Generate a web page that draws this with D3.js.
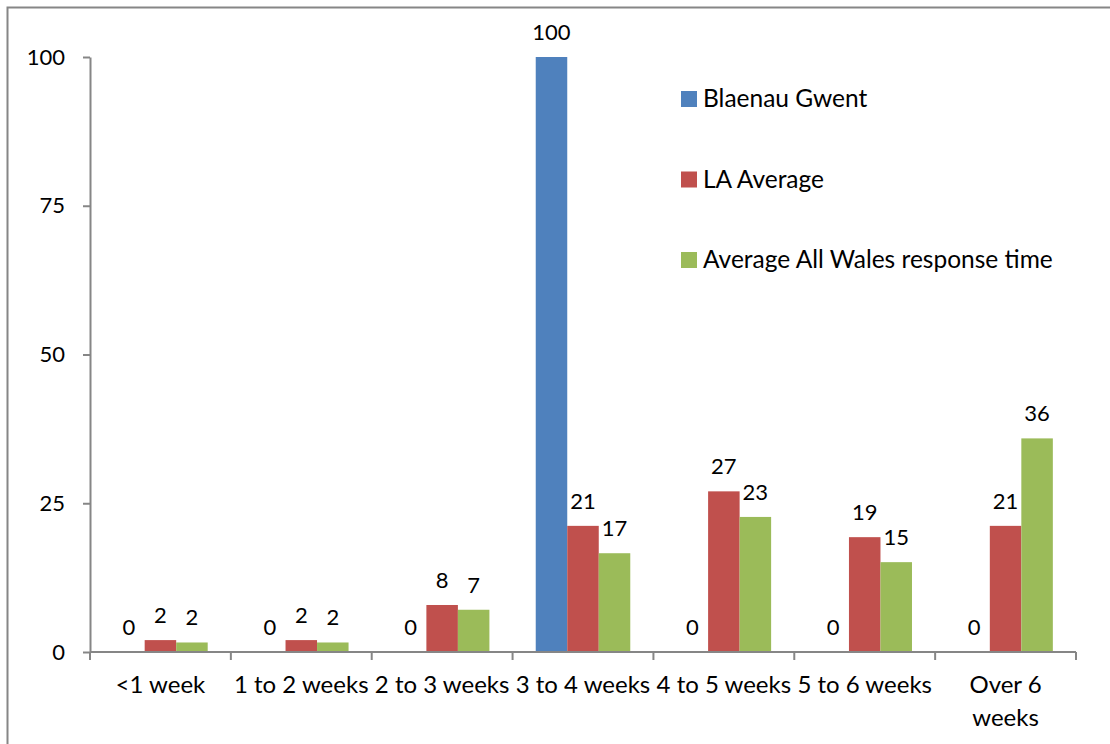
<!DOCTYPE html>
<html>
<head>
<meta charset="utf-8">
<script src="https://cdn.jsdelivr.net/npm/d3@7.9.0/dist/d3.min.js"></script>
<style>
  body { margin: 0; background: #fff; }
  svg { display: block; }
  text { font-family: Lato, "Open Sans", sans-serif; fill: #000; }
</style>
</head>
<body>
<svg width="1110" height="744"></svg>
<script>
// chart data
const categories = ['<1 week', '1 to 2 weeks', '2 to 3 weeks', '3 to 4 weeks', '4 to 5 weeks', '5 to 6 weeks', 'Over 6 weeks'];
const tickLabels = [['<1 week'], ['1 to 2 weeks'], ['2 to 3 weeks'], ['3 to 4 weeks'], ['4 to 5 weeks'], ['5 to 6 weeks'], ['Over 6', 'weeks']];
const seriesNames = ['Blaenau Gwent', 'LA Average', 'Average All Wales response time'];
const blaenauGwent = [0, 0, 0, 100, 0, 0, 0];
const laAverage = [2.0, 2.0, 7.9, 21.2, 27.0, 19.3, 21.2];
const allWales = [1.6, 1.6, 7.1, 16.6, 22.7, 15.1, 35.9];
const yTicks = [0, 25, 50, 75, 100];
const colors = ['#4F81BD', '#C0504D', '#9BBB59'];

const series = [blaenauGwent, laAverage, allWales];

const svg = d3.select('svg');
const numSize = 22;   // digits
const textSize = 24;  // words
const axisColor = '#868686';

// outer frame (runs off the right and bottom edge)
svg.append('rect')
  .attr('x', 7.5).attr('y', 7.5)
  .attr('width', 1120).attr('height', 760)
  .attr('fill', 'none')
  .attr('stroke', axisColor)
  .attr('stroke-width', 2);

const x = d3.scaleBand().domain(categories).range([90, 1076]).padding(0);
const xs = d3.scaleBand().domain(d3.range(series.length)).range([0, x.bandwidth()])
  .paddingInner(0).paddingOuter(0.735);
const y = d3.scaleLinear().domain([0, 100]).range([652, 57]);

// y axis
const yAxis = svg.append('g')
  .attr('transform', 'translate(90,0)')
  .call(d3.axisLeft(y).tickValues(yTicks).tickSize(7).tickPadding(18).tickSizeOuter(0));
yAxis.select('.domain').attr('stroke', axisColor).attr('stroke-width', 2);
yAxis.selectAll('.tick line').attr('stroke', axisColor).attr('stroke-width', 2);
yAxis.selectAll('.tick text')
  .style('font-family', 'Lato, "Open Sans", sans-serif')
  .attr('font-size', numSize).attr('fill', '#000');

// bars
series.forEach((vals, si) => {
  svg.append('g')
    .selectAll('rect')
    .data(vals)
    .join('rect')
    .attr('x', (d, i) => x(categories[i]) + xs(si))
    .attr('y', d => y(d))
    .attr('width', xs.bandwidth())
    .attr('height', d => y(0) - y(d))
    .attr('fill', colors[si]);

  // value labels
  svg.append('g')
    .selectAll('text')
    .data(vals)
    .join('text')
    .attr('x', (d, i) => x(categories[i]) + xs(si) + xs.bandwidth() / 2)
    .attr('y', d => y(d) - 17)
    .attr('text-anchor', 'middle')
    .attr('font-size', numSize)
    .text(d => d3.format('.0f')(d));
});

// x axis line and category boundary ticks
svg.append('line')
  .attr('x1', x.range()[0]).attr('x2', x.range()[1])
  .attr('y1', y(0)).attr('y2', y(0))
  .attr('stroke', axisColor).attr('stroke-width', 2);

const bounds = categories.map(c => x(c)).concat([x.range()[1]]);
svg.append('g')
  .selectAll('line')
  .data(bounds)
  .join('line')
  .attr('x1', d => d).attr('x2', d => d)
  .attr('y1', y(0)).attr('y2', y(0) + 8)
  .attr('stroke', axisColor).attr('stroke-width', 2);

// category labels
const catLabels = svg.append('g')
  .selectAll('text')
  .data(tickLabels)
  .join('text')
  .attr('x', (d, i) => x(categories[i]) + x.bandwidth() / 2)
  .attr('y', 693)
  .attr('text-anchor', 'middle')
  .attr('font-size', textSize);
catLabels.each(function(lines) {
  const t = d3.select(this);
  lines.forEach((line, li) => {
    t.append('tspan')
      .attr('x', t.attr('x'))
      .attr('dy', li === 0 ? 0 : 33)
      .text(line);
  });
});

// legend
const legend = svg.append('g')
  .selectAll('g')
  .data(seriesNames)
  .join('g')
  .attr('transform', (d, i) => `translate(681,${91 + i * 80.5})`);
legend.append('rect')
  .attr('width', 16).attr('height', 16)
  .attr('fill', (d, i) => colors[i]);
legend.append('text')
  .attr('x', 22).attr('y', 16)
  .attr('font-size', 24.5)
  .text(d => d);
</script>
</body>
</html>
